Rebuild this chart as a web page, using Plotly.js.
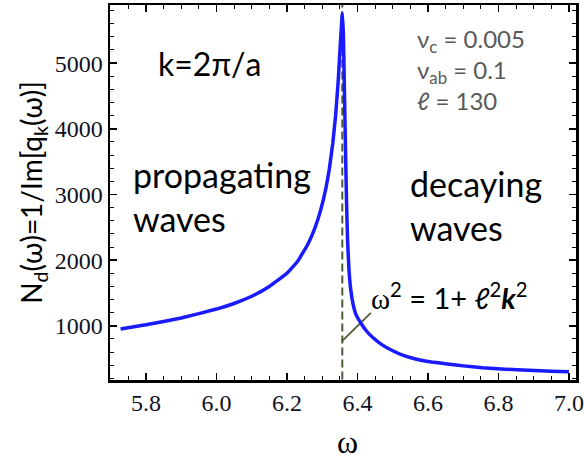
<!DOCTYPE html>
<html>
<head>
<meta charset="utf-8">
<script src="https://cdn.plot.ly/plotly-3.0.1.min.js"></script>
<style>html,body{margin:0;padding:0;background:#fff}#chart{width:584px;height:464px}</style>
</head>
<body>
<div id="chart"></div>
<script>
// Curve N_d(omega)
const omega = [5.728, 5.80, 5.90, 6.00, 6.05, 6.10, 6.15, 6.20, 6.23, 6.26, 6.28, 6.295, 6.31, 6.32, 6.33, 6.338, 6.345, 6.351, 6.355, 6.357,
               6.360, 6.363, 6.366, 6.369, 6.372, 6.376, 6.381, 6.388, 6.396, 6.41, 6.425, 6.442, 6.47, 6.50, 6.53, 6.565, 6.61, 6.66, 6.70, 6.754, 6.82, 6.886, 6.95, 7.00];
const Nd    = [950, 1015, 1120, 1255, 1340, 1450, 1600, 1800, 1980, 2250, 2500, 2750, 3080, 3380, 3780, 4200, 4700, 5250, 5600, 5760,
               5450, 4600, 3700, 2900, 2300, 1850, 1550, 1320, 1170, 1040, 925, 830, 710, 620, 550, 495, 450, 415, 390, 363, 340, 323, 310, 300];
// Vertical dashed line omega^2 = 1 + l^2 k^2
const resX = [6.357, 6.357];
const resY = [0, 7000];
// Pointer from the formula to the dashed line
const pointerX = [6.357, 6.438];
const pointerY = [771, 1198];
const xTicks = [5.8, 6.0, 6.2, 6.4, 6.6, 6.8, 7.0];
const yTicks = [1000, 2000, 3000, 4000, 5000];

const sans = 'Lato';
const serif = 'Liberation Serif';

const traces = [
  {x: resX, y: resY, mode: 'lines', line: {color: '#4b5d2e', width: 2, dash: '8px,4px'}, hoverinfo: 'skip'},
  {x: pointerX, y: pointerY, mode: 'lines', line: {color: '#4b5d2e', width: 1.8}, hoverinfo: 'skip'},
  {x: omega, y: Nd, mode: 'lines', line: {color: '#1a1aff', width: 3.5, shape: 'spline', smoothing: 0.3}, hoverinfo: 'skip'}
];

const layout = {
  width: 584, height: 464,
  margin: {l: 110, r: 8, t: 5, b: 84},
  paper_bgcolor: '#fff', plot_bgcolor: '#fff',
  showlegend: false,
  font: {family: serif},
  xaxis: {
    range: [5.698, 7.02], tickvals: xTicks, ticktext: xTicks.map(v => v.toFixed(1)),
    ticks: 'inside', ticklen: 7, tickwidth: 1.5, tickcolor: '#000', ticklabeloverflow: 'allow',
    minor: {dtick: 0.05, tick0: 5.8, ticks: 'inside', ticklen: 4, tickcolor: '#000', tickwidth: 1},
    showline: true, linecolor: '#000', linewidth: 2.5, mirror: 'ticks',
    showgrid: false, zeroline: false,
    tickfont: {family: serif, size: 24, color: '#111122'}
  },
  yaxis: {
    range: [175, 5885], tickvals: yTicks, ticktext: yTicks.map(String),
    ticks: 'inside', ticklen: 7, tickwidth: 1.5, tickcolor: '#000', ticklabeloverflow: 'allow',
    minor: {dtick: 200, tick0: 0, ticks: 'inside', ticklen: 4, tickcolor: '#000', tickwidth: 1},
    showline: true, linecolor: '#000', linewidth: 2.5, mirror: 'ticks',
    showgrid: false, zeroline: false,
    tickfont: {family: serif, size: 24, color: '#111122'},
    title: {text: 'N<sub>d</sub>(ω)=1/Im[q<sub>k</sub>(ω)]', font: {family: sans, size: 28, color: '#000'}, standoff: 4}
  },
  annotations: [
    {xref: 'paper', yref: 'paper', x: 0.51, y: -0.165, xanchor: 'center', yanchor: 'middle', showarrow: false,
     text: 'ω', font: {family: serif, size: 32, color: '#000'}},
    {xref: 'paper', yref: 'paper', x: 0.098, y: 0.845, xanchor: 'left', yanchor: 'middle', showarrow: false,
     text: 'k=2π/a', font: {family: sans, size: 32, color: '#000'}},
    {xref: 'paper', yref: 'paper', x: 0.655, y: 0.955, xanchor: 'left', yanchor: 'top', showarrow: false, align: 'left',
     text: 'ν<sub>c</sub> = 0.005<br>ν<sub>ab</sub> = 0.1<br><i>ℓ</i> = 130', font: {family: sans, size: 24, color: '#595959'}},
    {xref: 'paper', yref: 'paper', x: 0.045, y: 0.49, xanchor: 'left', yanchor: 'middle', showarrow: false, align: 'left',
     text: 'propagating<br>waves', font: {family: sans, size: 34, color: '#000'}},
    {xref: 'paper', yref: 'paper', x: 0.64, y: 0.465, xanchor: 'left', yanchor: 'middle', showarrow: false, align: 'left',
     text: 'decaying<br>waves', font: {family: sans, size: 34, color: '#000'}},
    {xref: 'paper', yref: 'paper', x: 0.555, y: 0.225, xanchor: 'left', yanchor: 'middle', showarrow: false,
     text: '<span style="font-family:Liberation Serif">ω</span><sup>2</sup> = 1+ <i>ℓ</i><sup>2</sup><b><i>k</i></b><sup>2</sup>', font: {family: sans, size: 29, color: '#000'}}
  ]
};

Plotly.newPlot('chart', traces, layout, {staticPlot: true, displayModeBar: false});
</script>
</body>
</html>
